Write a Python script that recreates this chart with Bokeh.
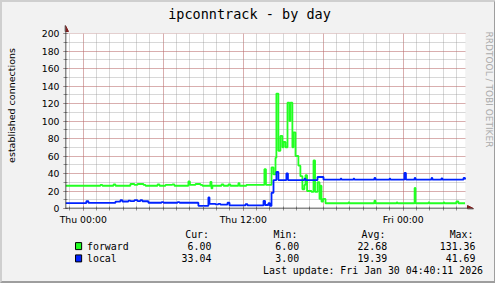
from datetime import datetime, timedelta
from bokeh.plotting import figure
from bokeh.layouts import column
from bokeh.core.properties import value
from bokeh.models import (SingleIntervalTicker, DatetimeTickFormatter, Range1d, Label,
                          Arrow, NormalHead)
from bokeh.embed import file_html
from bokeh.resources import INLINE

# ---------------- data ----------------
DAYS = {"Wed": "2026-01-28", "Thu": "2026-01-29", "Fri": "2026-01-30"}

forward_times = ["Wed 22:40", "Thu 01:17", "01:26", "02:16", "02:25", "03:32", "03:50", "04:04",
                 "04:31", "04:40", "05:34", "05:43", "06:10", "06:41", "06:50", "07:53", "08:00",
                 "08:25", "08:47", "08:56", "09:32", "09:37", "09:41", "10:22", "10:31", "10:53",
                 "11:02", "11:38", "11:43", "12:14", "13:35", "13:42", "14:07", "14:16", "14:25",
                 "14:29", "14:38", "14:47", "14:56", "15:01", "15:10", "15:19", "15:28", "15:32",
                 "15:41", "15:46", "15:55", "16:08", "16:17", "16:26", "16:35", "16:40", "16:47",
                 "17:07", "17:16", "17:23", "17:34", "17:43", "17:48", "17:52", "17:59", "18:10",
                 "19:53", "19:58", "21:50", "21:55", "23:30", "23:34", "Fri 00:51", "00:55",
                 "01:53", "01:58", "03:01", "03:05", "03:59", "04:08", "04:38"]
forward_values = [26, 27, 26, 27.5, 26, 28, 27, 28,
                  27, 26, 27.5, 26, 27, 27.5, 26, 31, 27,
                  28, 27, 26, 30.5, 23, 26, 27.5, 26, 27.5,
                  26, 29, 26, 27, 45, 27, 47, 39, 58,
                  131.36, 66, 83, 70, 76, 70, 121, 100, 121,
                  70, 87, 60, 49, 37, 22, 27, 38, 20,
                  19, 55, 19, 30, 11, 26, 8, 11, 6,
                  7, 6, 9, 6, 7, 6, 23.5, 6,
                  7, 6, 7, 6, 8, 6, 6]

local_times = ["Wed 22:40", "Thu 00:14", "00:23", "02:25", "02:47", "02:56", "03:23", "03:32",
               "03:50", "04:04", "04:17", "04:26", "04:53", "05:52", "06:01", "07:04", "07:13",
               "08:38", "09:23", "09:28", "09:55", "10:08", "10:17", "10:49", "10:58", "12:10",
               "12:19", "13:31", "13:38", "13:53", "14:00", "14:07", "14:16", "14:29", "14:38",
               "15:14", "15:21", "16:35", "16:40", "17:34", "18:01", "19:18", "19:22", "20:16",
               "20:20", "21:50", "21:55", "22:58", "23:02", "Fri 00:05", "00:12", "00:51", "00:55",
               "02:07", "02:11", "02:52", "02:56", "04:31", "04:38"]
local_values = [6.2, 8.5, 6.5, 7.9, 9.5, 8, 9, 8.5,
                9.5, 8.5, 9.5, 8.3, 6.6, 7.2, 6.6, 7.2, 6.6,
                3.1, 12.6, 5.3, 4.8, 5.3, 4.5, 6.6, 3.5, 5,
                3.5, 8.8, 4, 6, 3, 18, 32.5, 41.69, 32.5,
                40, 32.5, 34, 32.5, 36, 33, 34, 33, 34,
                33, 35, 33, 34, 33, 40.6, 33, 35, 33,
                35, 33, 34.5, 33, 35, 33.04]

series_names = ["forward", "local"]
series_colors = ["#22FF22", "#0022FF"]
cur_vals = ["6.00", "33.04"]
min_vals = ["6.00", "3.00"]
avg_vals = ["22.68", "19.39"]
max_vals = ["131.36", "41.69"]
stat_headers = ["Cur:", "Min:", "Avg:", "Max:"]
title_text = "ipconntrack - by day"
y_label = "established connections"
last_update = "Last update: Fri Jan 30 04:40:11 2026"
watermark = "RRDTOOL / TOBI OETIKER"


def parse(lst):
    out, day = [], "Wed"
    for s in lst:
        parts = s.split()
        if len(parts) == 2:
            day, hm = parts
        else:
            hm = parts[0]
        out.append(datetime.strptime(DAYS[day] + " " + hm, "%Y-%m-%d %H:%M"))
    return out


fwd_t = parse(forward_times)
loc_t = parse(local_times)

start = datetime(2026, 1, 28, 22, 40)
end = datetime(2026, 1, 30, 4, 40)
y_top = 200

# data area is 400 x 175 px; the frame also covers the top and right margins
PX_X = 400 / (30 * 60)      # px per minute
PX_Y = 175 / y_top          # px per unit
FW, FH = 429, 206
x_max = start + timedelta(minutes=FW / PX_X)
y_max = FH / PX_Y

BG = "#F2F2F2"
MONO = "DejaVu Sans Mono"

# ---------------- main chart ----------------
p = figure(frame_width=FW, frame_height=FH, x_axis_type="datetime",
           x_range=Range1d(start, x_max), y_range=Range1d(0, y_max),
           output_backend="svg", toolbar_location=None,
           min_border_left=62, min_border_right=0, min_border_top=0, min_border_bottom=20,
           border_fill_color=BG, background_fill_color=BG)
p.outline_line_color = None

# white canvas only over the data area
p.quad(left=[start], right=[end], bottom=[0], top=[y_top], fill_color="#FFFFFF",
       line_color=None, level="image")

H = 3600 * 1000
p.xaxis.ticker = SingleIntervalTicker(interval=12 * H, num_minor_ticks=12)
p.xgrid.ticker = SingleIntervalTicker(interval=6 * H, num_minor_ticks=6)
p.xaxis.formatter = DatetimeTickFormatter(hours="%a %H:%M", days="%a %H:%M", hourmin="%a %H:%M")
p.yaxis.ticker = SingleIntervalTicker(interval=20, num_minor_ticks=2)
p.xaxis.bounds = (start, end)
p.yaxis.bounds = (0, y_top)

MAJ = "#DE4F4F"
MIN = "#8F8F8F"
for g in (p.xgrid, p.ygrid):
    g.grid_line_color = MAJ
    g.grid_line_alpha = 0.6
    g.grid_line_dash = "1 1"
    g.minor_grid_line_color = MIN
    g.minor_grid_line_alpha = 0.7
    g.minor_grid_line_dash = "1 1"

# hide grid lines outside the data area (drawn above the grid, below the data)
p.quad(left=[end], right=[x_max], bottom=[0], top=[y_max], fill_color=BG,
       line_color=None, level="glyph")
p.quad(left=[start], right=[end], bottom=[y_top], top=[y_max], fill_color=BG,
       line_color=None, level="glyph")

for ax in (p.xaxis, p.yaxis):
    ax.axis_line_color = None
    ax.major_tick_line_color = MAJ
    ax.minor_tick_line_color = MIN
    ax.major_tick_in = 2
    ax.major_tick_out = 2
    ax.minor_tick_in = 2
    ax.minor_tick_out = 2
    ax.major_label_text_font = "DejaVu Sans"
    ax.major_label_text_font_size = "9.3px"
    ax.major_label_text_color = "#000000"
p.xaxis.major_label_standoff = 3
p.yaxis.major_label_standoff = 4
p.yaxis.axis_label = y_label
p.yaxis.axis_label_text_font = "DejaVu Sans"
p.yaxis.axis_label_text_font_size = "9.5px"
p.yaxis.axis_label_text_font_style = "normal"
p.yaxis.axis_label_text_color = "#000000"
p.yaxis.axis_label_standoff = 22

# data lines
p.step(fwd_t, forward_values, mode="after", line_color=series_colors[0], line_width=1.8)
p.step(loc_t, local_values, mode="after", line_color=series_colors[1], line_width=1.8)

# axes with arrows (rrdtool style)
AX = "#1F1F1F"
AR = "#801F1F"
p.add_layout(Arrow(x_start=start - timedelta(minutes=18), y_start=0,
                   x_end=end + timedelta(minutes=8 / PX_X), y_end=0,
                   line_color=AX, line_width=1.5,
                   end=NormalHead(size=6, fill_color=AR, line_color=AR, line_width=1)))
p.add_layout(Arrow(x_start=start, y_start=-4.6, x_end=start, y_end=y_top + 8 / PX_Y,
                   line_color=AX, line_width=1.5,
                   end=NormalHead(size=6, fill_color=AR, line_color=AR, line_width=1)))

FL, FB = 64, 208   # frame left / data-area bottom in page pixels


def lab(text, px, py, size, font=MONO, align="center", color="#000000", angle=0):
    p.add_layout(Label(x=px - FL, y=FB - py, x_units="screen", y_units="screen", text=text,
                       text_font=font, text_font_size=size, text_align=align,
                       text_baseline="middle", text_color=color, angle=angle,
                       angle_units="deg"))


lab(title_text, 248, 13, "13.5px")
lab(watermark, 487, 89, "9px", font="DejaVu Sans", color="#ABABAB", angle=-90)

# ---------------- legend strip (page pixel coordinates) ----------------
LEG_TOP, LEG_BOT = 228, 281
q = figure(width=491, height=LEG_BOT - LEG_TOP, x_range=Range1d(2, 493),
           y_range=Range1d(LEG_BOT, LEG_TOP), output_backend="svg", toolbar_location=None,
           x_axis_location=None, y_axis_location=None, min_border=0,
           border_fill_color=BG, background_fill_color=BG)
q.outline_line_color = None
q.xgrid.grid_line_color = None
q.ygrid.grid_line_color = None

row_y = [245.5, 257.8]
q.text(x=[139.3, 240.7, 341.7, 442.7], y=[234] * 4, text=stat_headers,
       text_font=value(MONO), text_font_size="9.9px", text_align="left",
       text_baseline="middle", text_color="#000000")
q.rect(x=[17, 17], y=[245.6, 257.9], width=7, height=7, fill_color=series_colors,
       line_color="#000000", line_width=1)
q.text(x=[26.7, 26.7], y=row_y, text=series_names, text_font=value(MONO),
       text_font_size="9.9px", text_align="left", text_baseline="middle", text_color="#000000")
for vals, rx in zip([cur_vals, min_vals, avg_vals, max_vals], [169.3, 270, 371, 472.3]):
    q.text(x=[rx, rx], y=row_y, text=vals, text_font=value(MONO), text_font_size="9.9px",
           text_align="right", text_baseline="middle", text_color="#000000")
q.text(x=[481], y=[270.2], text=[last_update], text_font=value(MONO), text_font_size="9.9px",
       text_align="right", text_baseline="middle", text_color="#000000")

layout = column(p, q, spacing=0,
                styles={"border-style": "solid", "border-width": "2px",
                        "border-color": "#CFCFCF #9E9E9E #9E9E9E #CFCFCF",
                        "background-color": BG})

open("out.html", "w").write(file_html(layout, INLINE))
